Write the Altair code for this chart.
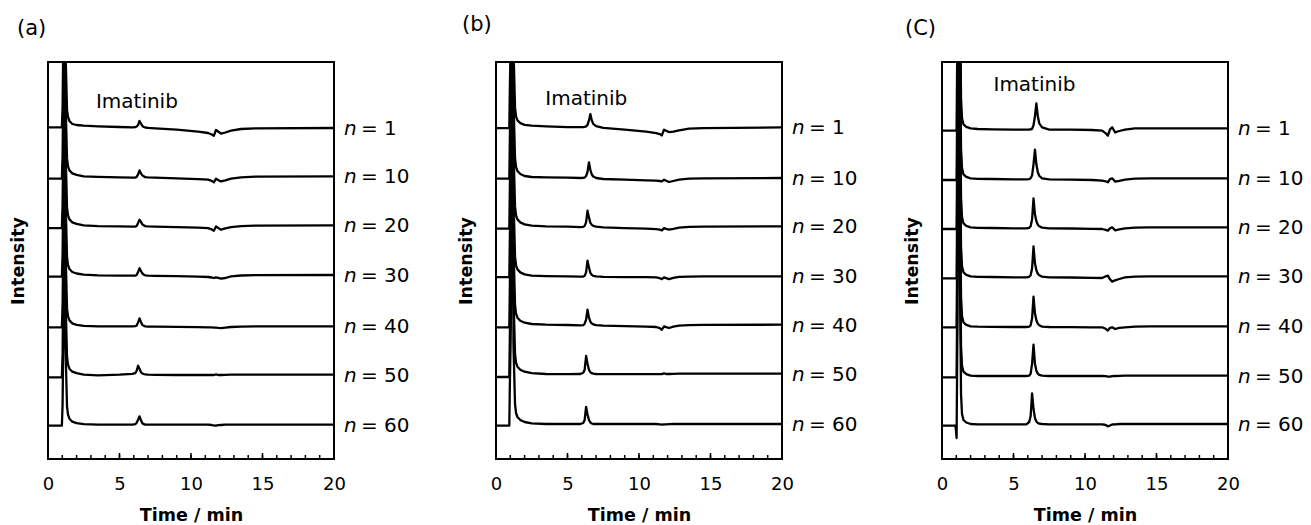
import altair as alt
import pandas as pd

# ---------------- data ----------------
TIME = [0, 0.9, 0.93, 0.97, 1.02, 1.08, 1.16, 1.22, 1.33, 1.4,
        1.5, 1.7, 2.0, 2.5, 3.5, 5.0, 5.9, 6.1, 6.2, 6.3,
        6.4, 6.5, 6.6, 6.7, 6.8, 7.0, 7.5, 9.0, 10.5, 11.2,
        11.45, 11.6, 11.75, 11.9, 12.1, 12.4, 12.8, 13.5, 14.5, 20.0]
RUNS = [1, 10, 20, 30, 40, 50, 60]

# panel (a)
OFFSET_A = [331, 282.6, 233.6, 184, 132.6, 84.3, 34.3]
SIG_A = {
    1: [0.7, 0.7, 0.7, 0.7, 20, 100, 3000, 80, 18, 11, 7, 4, 3, 2.3, 1.7, 1.0, 0.7, 0.8, 1.5, 3, 7, 4.5, 2, 1, 0.5, 0.2, -0.3, -1.7, -3.7, -5, -6.5, -7.7, -2, -3.5, -5.7, -4.5, -2.7, -1, -0.3, 0],
    10: [-2.3, -2.3, -2.3, -2.3, 20, 100, 3000, 80, 18, 10, 6, 3, 1.5, 0, -0.5, -1, -1.3, -1.2, -0.5, 2, 6, 3, 1, 0, -0.7, -1, -1.3, -2, -2.7, -3.3, -4.5, -6, -2.3, -3.5, -5, -4, -2.3, -1, -0.3, 0],
    20: [-2.7, -2.7, -2.7, -2.7, 20, 100, 3000, 80, 18, 10, 6, 3, 1.5, 0, -0.7, -1, -1.3, -1.2, -0.5, 2.5, 5.7, 3.5, 1, 0, -0.7, -1, -1.3, -1.8, -2.3, -2.7, -4, -5.3, -1, -2.5, -4.3, -3, -1.7, -0.7, -0.2, 0],
    30: [-1.7, -1.7, -1.7, -1.7, 20, 100, 3000, 80, 18, 10, 6, 3, 1.5, 0.3, -0.3, -0.7, -0.7, -0.6, 0, 3, 6.7, 4, 1.5, 0.3, -0.3, -0.6, -0.8, -1.2, -1.6, -2, -2.5, -3, -2.3, -2.8, -3.7, -3, -1.3, -0.5, -0.2, 0],
    40: [-1, -1, -1, -1, 20, 100, 3000, 80, 18, 10, 6, 3, 1.5, 0.5, 0, 0, 0, 0.2, 1, 4, 8, 4.5, 1.5, 0.5, 0, -0.2, -0.3, -0.5, -0.7, -1, -1, -1.2, -1.3, -1.5, -1.7, -1.2, -0.6, -0.3, 0, 0],
    50: [-2.7, -2.7, -2.7, -2.7, 20, 100, 3000, 80, 18, 10, 6, 3, 1.5, 0, -0.7, 0, 0.8, 1.5, 4, 9, 6, 2.5, 1.2, 0.7, 0.3, 0, -0.2, -0.3, -0.3, -0.3, -0.3, -0.3, 0.3, -0.3, -0.3, -0.2, 0, 0, 0, 0],
    60: [-1, -1, -1, -1, 20, 100, 3000, 80, 18, 10, 6, 3, 1.5, 0.5, 0, 0, 0, 0.5, 2, 5, 8.3, 4.5, 1.5, 0.5, 0, 0, 0, 0, 0, 0, -0.3, -0.8, -1, -0.5, -0.3, 0, 0, 0, 0, 0],
}

# panel (b)
OFFSET_B = [331.6, 281, 232.6, 182.6, 134.3, 85.3, 35]
SIG_B = {
    1: [-0.7, -0.7, -0.7, 40, 80, 150, 3000, 80, 20, 11, 7, 4.3, 2.5, 1.7, 1, 0.3, 0.3, 0.3, 0.5, 1, 2.5, 7, 13.3, 7, 3.5, 1.2, -0.5, -2.3, -4.3, -5.7, -6.7, -8, -2.3, -3.3, -4.7, -4.3, -3, -1.3, -0.7, 0],
    10: [-0.7, -0.7, -0.7, 40, 80, 150, 3000, 80, 20, 11, 7, 4, 2, 1, 0.7, 0.3, 0, 0.2, 0.5, 2, 6, 15.7, 8, 3.5, 1.5, 0, -1, -1.7, -2.3, -2.7, -3, -3.3, -1.7, -2.7, -4, -3, -1.7, -0.7, -0.3, 0],
    20: [-2.3, -2.3, -2.3, 40, 80, 150, 3000, 80, 20, 11, 7, 4, 2, 0.7, 0, -0.3, -0.7, -0.5, 0.5, 4, 15.7, 9, 3.5, 1.5, 0.5, -0.3, -1, -1.7, -2.3, -2.7, -3.3, -4, -1.7, -2.5, -3.3, -2.5, -1.3, -0.5, -0.2, 0],
    30: [-0.7, -0.7, -0.7, 40, 80, 150, 3000, 80, 20, 11, 7, 4, 2, 0.7, 0.3, 0, -0.3, -0.2, 0.7, 4, 15.7, 9, 3.5, 1.5, 0.5, 0, -0.5, -0.7, -0.8, -1, -1.8, -2.7, -1, -1.8, -2.7, -1.5, -0.5, -0.2, 0, 0],
    40: [-2.7, -2.7, -2.7, 40, 80, 150, 3000, 80, 20, 11, 7, 4, 2, 0.7, 0, -0.3, -0.7, -0.5, 1, 5, 15, 7, 3, 1.2, 0.3, -0.5, -1, -1.5, -2, -2.3, -3.5, -5, -1.7, -2.5, -3.3, -2, -1, -0.5, -0.2, 0],
    50: [-3.3, -3.3, -3.3, 40, 80, 150, 3000, 80, 20, 11, 7, 4, 2, 0.5, -0.3, -0.5, -0.3, 1, 4, 17.7, 10, 4, 1.5, 0.5, 0, -0.3, -0.5, -0.5, -0.5, -0.5, -0.5, -0.5, 0.3, -0.3, -0.3, -0.2, 0, 0, 0, 0],
    60: [-1.7, -1.7, -1.7, 40, 80, 150, 3000, 80, 20, 11, 7, 4, 2, 0.7, 0, 0, 0, 1, 4, 17, 9.5, 4, 1.5, 0.5, 0, 0, 0, 0, 0, 0, -0.3, -0.6, -0.3, -0.3, -0.2, 0, 0, 0, 0, 0],
}

# panel (C)
OFFSET_C = [330.7, 280.7, 231.7, 182.7, 132.7, 83.3, 35]
SIG_C = {
    1: [-2.3, -2.3, -2.3, -2.3, -2.3, 100, 3000, 200, 30, 10, 4, 1.5, 0, -0.7, -1, -1.3, -1.3, -1.2, -1, -0.5, 3, 12, 25, 12, 5, 1, -1.3, -1.3, -1.7, -2.3, -5, -7.3, -1, 1, -4, -2.7, -1.3, 0, 0, 0],
    10: [-1.7, -1.7, -1.7, -1.7, -1.7, 100, 3000, 200, 30, 10, 4, 1.5, 0, -0.5, -0.7, -1, -1, -0.8, 0, 3, 14, 28.7, 14, 6, 2.5, 0, -1, -1.3, -1.7, -2.3, -3, -4, -0.7, 0, -3.3, -2.5, -1.3, -0.3, 0, 0],
    20: [-1.7, -1.7, -1.7, -1.7, -1.7, 100, 3000, 200, 30, 10, 4, 1.5, 0, -0.5, -0.7, -1, -1, -0.5, 1, 8, 29, 13, 6, 2.5, 1, -0.3, -1, -1.2, -1.5, -1.7, -2.5, -3.3, -1, 0, -3, -2, -1, -0.3, 0, 0],
    30: [-2, -2, -2, -2, -2, 100, 3000, 200, 30, 10, 4, 1.5, 0, -0.5, -0.7, -1, -1, -0.5, 1, 8, 30, 13, 6, 2.5, 1, -0.3, -1, -1.2, -1.5, -1.7, 0, 0.7, -3, -5.3, -4, -2.7, -1, -0.3, 0, 0],
    40: [-1, -1, -1, -1, -1, 100, 3000, 200, 30, 10, 4, 1.5, 0, -0.3, -0.5, -0.7, -0.7, -0.3, 1, 8, 29.7, 13, 6, 2.5, 1, -0.3, -0.7, -0.8, -1, -1, -2.5, -4.3, -1.5, -1, -2.7, -1.5, -1, -0.3, 0, 0],
    50: [-1.7, -1.7, -1.7, -1.7, -1.7, 100, 3000, 200, 30, 10, 4, 1.5, 0, -0.3, -0.3, -0.3, -0.3, 0, 2, 12, 31, 12, 5, 2, 0.8, 0, -0.3, -0.3, -0.3, -0.3, -0.5, -1, -1, -0.5, -0.3, -0.2, 0, 0, 0, 0],
    60: [-1.7, -1.7, -1.7, -5, -14, 100, 3000, 200, 30, 10, 4, 1.5, 0, -0.3, -0.3, -0.3, -0.3, 2, 8, 30.7, 15, 6, 2.5, 1, 0.3, 0, -0.3, -0.3, -0.3, -0.3, -1, -2.3, -1.5, -0.5, -0.3, 0, 0, 0, 0, 0],
}

MAJOR_TICKS = [0, 5, 10, 15, 20]
MINOR_TICKS = [0, 1, 2, 3, 4, 5, 6, 7, 8, 9, 10, 11, 12, 13, 14, 15, 16, 17, 18, 19, 20]

# ---------------- layout / style ----------------
W, H = 286, 397
FONT = "DejaVu Sans"


def panel(tag, offsets, signals, tag_pos, imatinib_pos):
    rows = [{"t": t, "y": off + v, "run": n}
            for n, off in zip(RUNS, offsets)
            for t, v in zip(TIME, signals[n])]
    trace_df = pd.DataFrame(rows)
    label_df = pd.DataFrame({"y": offsets, "txt": [f"= {n}" for n in RUNS]})

    x_scale = alt.Scale(domain=[0, 20], nice=False, zero=False)
    y_scale = alt.Scale(domain=[0, H], nice=False, zero=False)

    lines = alt.Chart(trace_df).mark_line(
        clip=True, color="black", strokeWidth=2.3, strokeJoin="round"
    ).encode(
        x=alt.X("t:Q", scale=x_scale,
                axis=alt.Axis(values=MAJOR_TICKS, ticks=False, domain=False, grid=False,
                              labelFont=FONT, labelFontSize=18, labelColor="black",
                              labelPadding=16, labelFlush=False,
                              title="Time / min", titleFont=FONT, titleFontSize=17.5,
                              titleFontWeight="bold", titleColor="black", titlePadding=13)),
        y=alt.Y("y:Q", scale=y_scale,
                axis=alt.Axis(labels=False, ticks=False, domain=False, grid=False,
                              title="Intensity", titleFont=FONT, titleFontSize=17.5,
                              titleFontWeight="bold", titleColor="black", titlePadding=21)),
        detail="run:N",
    )

    minor = alt.Chart(pd.DataFrame({"t": MINOR_TICKS})).mark_rule(
        color="black", strokeWidth=1.5
    ).encode(x="t:Q", y=alt.value(H), y2=alt.value(H - 4))

    major = alt.Chart(pd.DataFrame({"t": MAJOR_TICKS})).mark_rule(
        color="black", strokeWidth=1.5
    ).encode(x="t:Q", y=alt.value(H), y2=alt.value(H - 6))

    n_italic = alt.Chart(label_df).mark_text(
        align="left", baseline="middle", dx=10, dy=1, font=FONT, fontSize=20,
        fontStyle="italic", color="black"
    ).encode(x=alt.datum(20), y="y:Q", text=alt.value("n"))

    n_rest = alt.Chart(label_df).mark_text(
        align="left", baseline="middle", dx=27, dy=1, font=FONT, fontSize=20,
        color="black"
    ).encode(x=alt.datum(20), y="y:Q", text="txt:N")

    imat = alt.Chart(pd.DataFrame({"t": [imatinib_pos[0]], "y": [imatinib_pos[1]]})).mark_text(
        align="left", baseline="alphabetic", font=FONT, fontSize=20, color="black"
    ).encode(x="t:Q", y="y:Q", text=alt.value("Imatinib"))

    tag_mark = alt.Chart(pd.DataFrame({"k": [0]})).mark_text(
        align="left", baseline="middle", font=FONT, fontSize=21, color="black"
    ).encode(x=alt.value(tag_pos[0]), y=alt.value(tag_pos[1]), text=alt.value(tag))

    return alt.layer(lines, minor, major, n_italic, n_rest, imat, tag_mark).properties(
        width=W, height=H
    )


pa = panel("(a)", OFFSET_A, SIG_A, (-31, -33), (3.35, 351))
pb = panel("(b)", OFFSET_B, SIG_B, (-34, -37), (3.45, 354))
pc = panel("(C)", OFFSET_C, SIG_C, (-37, -33), (3.6, 368))

chart = alt.hconcat(alt.hconcat(pa, pb, spacing=45), pc, spacing=43).properties(
    padding={"left": 8, "top": 13, "right": 0, "bottom": 0}
).configure_view(stroke="black", strokeWidth=2)

chart.save("out.html", embed_options={"renderer": "svg", "actions": False})
